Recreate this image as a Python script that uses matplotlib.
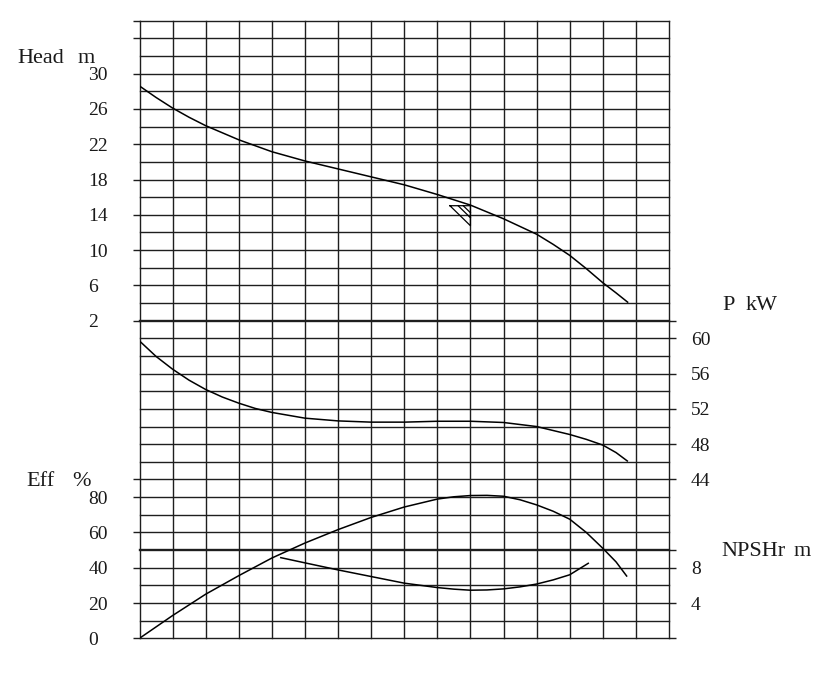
import matplotlib
matplotlib.use("Agg")
import matplotlib.pyplot as plt
import numpy as np

# ---------------- data ----------------
q_head = [0, 50, 100, 150, 200, 300, 400, 500, 600, 700, 800, 900, 1000, 1100, 1200, 1250, 1300, 1350, 1400, 1440, 1475]
head = [28.6, 27.3, 26.1, 25.05, 24.1, 22.5, 21.15, 20.1, 19.2, 18.3, 17.4, 16.3, 15.1, 13.55, 11.8, 10.65, 9.4, 7.9, 6.3, 5.15, 4.1]

q_power = [0, 50, 100, 150, 200, 250, 300, 350, 400, 500, 600, 700, 800, 900, 1000, 1100, 1200, 1300, 1350, 1400, 1440, 1474]
power = [59.7, 57.95, 56.5, 55.25, 54.2, 53.35, 52.65, 52.05, 51.6, 50.95, 50.64, 50.5, 50.5, 50.6, 50.6, 50.46, 50.0, 49.1, 48.55, 47.9, 47.05, 46.1]

q_eff = [0, 100, 200, 300, 400, 500, 600, 700, 800, 900, 950, 1000, 1050, 1100, 1150, 1200, 1250, 1300, 1350, 1400, 1440, 1472]
eff = [0, 12.9, 25.0, 35.5, 45.5, 54.0, 61.6, 68.5, 74.4, 78.9, 80.2, 80.9, 81.0, 80.5, 78.5, 75.6, 72.0, 67.5, 60.0, 51.0, 43.3, 35.3]

q_npsh = [427, 500, 600, 700, 800, 900, 950, 1000, 1050, 1100, 1150, 1200, 1250, 1300, 1356]
npsh = [9.14, 8.55, 7.75, 7.0, 6.25, 5.75, 5.57, 5.45, 5.48, 5.6, 5.83, 6.15, 6.62, 7.2, 8.5]

# duty point marker
duty_q = 1000
duty_h = 15.03

x_ticks = [0, 200, 400, 600, 800, 1000, 1200, 1400, 1600]
x_labels = ["0", "200", "400", "600", "800", "1000", "1200", "1400", "Q  m\u00b3/h"]
head_ticks = [36, 34, 30, 26, 22, 18, 14, 10, 6, 2]
head_labels = ["", "", "30", "26", "22", "18", "14", "10", "6", "2"]
eff_ticks = [90, 80, 60, 40, 20, 0]
eff_labels = ["", "80", "60", "40", "20", "0"]
p_ticks = [62, 60, 56, 52, 48, 44]
p_labels = ["", "60", "56", "52", "48", "44"]
npsh_ticks = [10, 8, 4, 0]
npsh_labels = ["", "8", "4", ""]

# ---------------- figure ----------------
W, H = 813, 683
fig = plt.figure(figsize=(W / 100, H / 100), dpi=100)
fig.patch.set_facecolor("white")

left_px, right_px, top_px, bot_px = 139.5, 669.0, 20.7, 638.3
rect = [left_px / W, 1 - bot_px / H, (right_px - left_px) / W, (bot_px - top_px) / H]
ax = fig.add_axes(rect)
ax.set_xlim(0, 1600)
ax.set_ylim(-34, 36)

ax_p = ax.twinx()
ax_p.set_ylim(26, 96)          # P = head + 60
ax_eff = ax.twinx()
ax_eff.set_ylim(0, 350)        # Eff = (head + 34) * 5
ax_n = ax.twinx()
ax_n.set_ylim(0, 70)           # NPSH = head + 34

FONT = "Liberation Serif"
TXT = "#1a1a1a"
GRID = "#1e1e1e"

for a in (ax, ax_p, ax_eff, ax_n):
    for s in a.spines.values():
        s.set_visible(False)
    a.patch.set_visible(False)

# grid
for xv in np.arange(0, 1601, 100):
    ax.plot([xv, xv], [-34, 36], color=GRID, lw=1.0, zorder=1, clip_on=False)
for yv in np.arange(-34, 37, 2):
    lw = 1.7 if yv in (2, -24) else 1.0
    ax.plot([0, 1600], [yv, yv], color=GRID, lw=lw, zorder=1, clip_on=False)

# ticks
tick_len = 4.9
ax.set_xticks(x_ticks)
ax.set_xticklabels(x_labels, fontfamily=FONT, fontsize=10.5, color=TXT)
ax.tick_params(axis="x", length=5.0, width=1.0, color=GRID, pad=6, direction="out")

ax.set_yticks(head_ticks)
ax.set_yticklabels(head_labels, fontfamily=FONT, fontsize=14, color=TXT)
ax.tick_params(axis="y", left=True, right=False, labelleft=True, labelright=False,
               length=tick_len, width=1.0, color=GRID, pad=32)
plt.setp(ax.get_yticklabels(), ha="left")

ax_eff.yaxis.tick_left()
ax_eff.set_xticks([])
ax_eff.set_yticks(eff_ticks)
ax_eff.set_yticklabels(eff_labels, fontfamily=FONT, fontsize=14, color=TXT)
ax_eff.tick_params(axis="y", left=True, right=False, labelleft=True, labelright=False,
                   length=tick_len, width=1.0, color=GRID, pad=32)
plt.setp(ax_eff.get_yticklabels(), ha="left")

ax_p.set_yticks(p_ticks)
ax_p.set_yticklabels(p_labels, fontfamily=FONT, fontsize=14, color=TXT)
ax_p.tick_params(axis="y", length=tick_len, width=1.0, color=GRID, pad=11)

ax_n.set_yticks(npsh_ticks)
ax_n.set_yticklabels(npsh_labels, fontfamily=FONT, fontsize=14, color=TXT)
ax_n.tick_params(axis="y", length=tick_len, width=1.0, color=GRID, pad=11)

# curves
ax.plot(q_head, head, color="black", lw=1.1, zorder=3)
ax_p.plot(q_power, power, color="black", lw=1.1, zorder=3)
ax_eff.plot(q_eff, eff, color="black", lw=1.1, zorder=3)
ax_n.plot(q_npsh, npsh, color="black", lw=1.1, zorder=3)

# duty point triangle (hatched)
tri_w, tri_h = 62, 2.27
ax.plot([duty_q - tri_w, duty_q, duty_q, duty_q - tri_w],
        [duty_h, duty_h, duty_h - tri_h, duty_h], color="black", lw=0.9, zorder=4)
for frac in (0.4, 0.65):
    x0 = duty_q - tri_w * (1 - frac)
    ax.plot([x0, duty_q], [duty_h, duty_h - tri_h * (1 - frac)], color="black", lw=0.9, zorder=4)

# axis titles
def ftext(x, y, s, size=16):
    fig.text(x / W, 1 - y / H, s, fontfamily=FONT, fontsize=size, color=TXT,
             ha="left", va="baseline")

ftext(17.3, 63.3, "Head")
ftext(78, 63.3, "m")
ftext(722.3, 310, "P")
ftext(746, 310, "kW")
ftext(26, 486, "Eff")
ftext(72, 486, "%")
ftext(721.7, 556, "NPSHr")
ftext(794, 556, "m")

fig.savefig("out.png", dpi=100, facecolor="white")
